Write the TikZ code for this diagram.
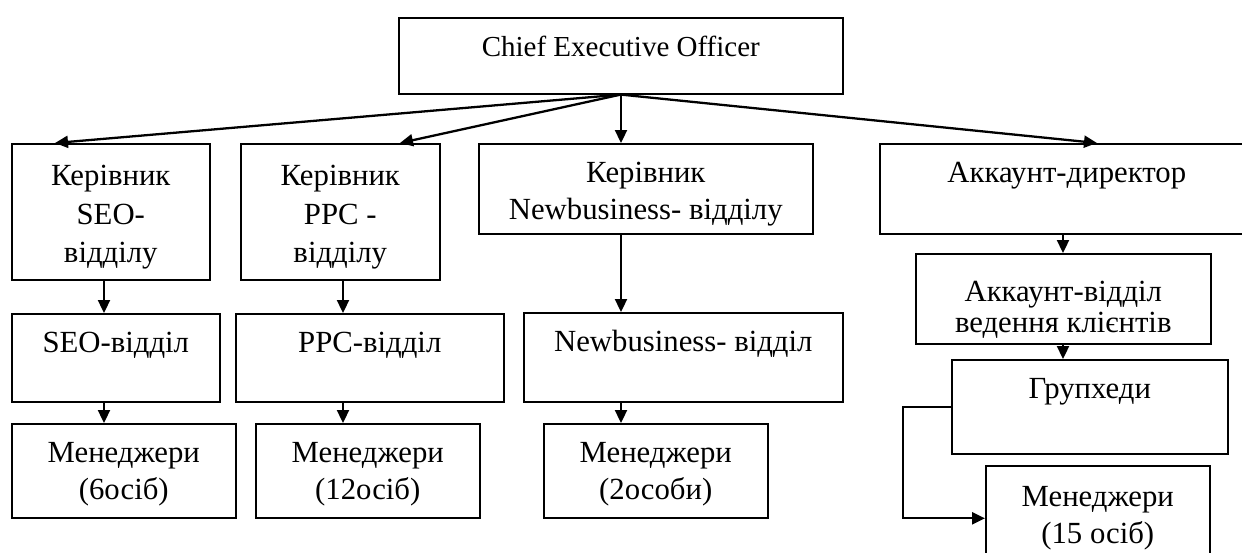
\documentclass[tikz,border=0pt]{standalone}
\usepackage{fontspec}
\setmainfont{Liberation Serif}
\usetikzlibrary{arrows.meta}

% one pixel of the chart
\newlength{\pxunit}
\setlength{\pxunit}{0.02cm}
% content of a box: [first baseline]{width}{height}{text}
\newcommand{\unittext}[4][39]{\parbox[c][#3\pxunit][t]{#2\pxunit}{\centering\rule{0pt}{#1\pxunit}#4}}

\tikzset{
    unit/.style={
           rectangle,
           draw=black, line width=0.9pt,
           inner sep=0pt,
           anchor=north west,
           font=\fontsize{17.5}{21}\selectfont,
           },
}

\begin{document}
\begin{tikzpicture}[x=0.02cm,y=-0.02cm,->,>={Triangle[length=0.26cm,width=0.24cm]},line width=1.3pt]

 \useasboundingbox (0,0) rectangle (1242,552);
 \clip (0,0) rectangle (1242,552);

 % top of the chart
 \node[unit,font=\fontsize{16.5}{21}\selectfont] (CEO) at (398,17)
 {\unittext{444}{76}{Chief Executive Officer}};

 % heads, first row
 \node[unit] (SEOHEAD) at (11,143)
 {\unittext[42]{198}{136}{\setlength{\baselineskip}{21.8pt}Керівник\\SEO-\\відділу}};
 \node[unit] (PPCHEAD) at (240,143)
 {\unittext[42]{199}{136}{\setlength{\baselineskip}{21.8pt}Керівник\\PPC -\\відділу}};
 \node[unit] (NBHEAD) at (478,143) {\unittext{334}{90}{Керівник\\Newbusiness- відділу}};
 \node[unit] (ACCDIR) at (879,143) {\unittext{374}{90}{Аккаунт-директор}};

 % departments
 \node[unit] (SEODEPT) at (11,313) {\unittext{208}{88}{SEO-відділ}};
 \node[unit] (PPCDEPT) at (235,313) {\unittext{268}{88}{PPC-відділ}};
 \node[unit] (NBDEPT) at (523,312) {\unittext{319}{89}{Newbusiness- відділ}};
 \node[unit] (ACCDEPT) at (915,253)
 {\unittext[48]{295}{90}{\setlength{\baselineskip}{17.3pt}Аккаунт-відділ\\ведення клієнтів}};
 \node[unit] (GRPHEAD) at (951,359) {\unittext{276}{94}{Групхеди}};

 % managers
 \node[unit] (SEOMGR) at (11,423) {\unittext{224}{94}{Менеджери\\(6осіб)}};
 \node[unit] (PPCMGR) at (255,423) {\unittext{224}{94}{Менеджери\\(12осіб)}};
 \node[unit] (NBMGR) at (543,423) {\unittext{224}{94}{Менеджери\\(2особи)}};
 \node[unit] (ACCMGR) at (985,465) {\unittext[41]{224}{105}{Менеджери\\(15 осіб)}};

 % where the arrows meet the boxes
 \coordinate (SEOCOL) at (104,0);
 \coordinate (PPCCOL) at (343,0);
 \coordinate (NBCOL) at (621,0);
 \coordinate (ACCCOL) at (1063,0);
 \coordinate (SEOTIP) at (55,0);
 \coordinate (PPCTIP) at (400,0);
 \coordinate (ACCTIP) at (1097,0);

 % draw the arrows
 \path (CEO.south)           edge (SEOHEAD.north -| SEOTIP)
       (CEO.south)           edge (PPCHEAD.north -| PPCTIP)
       (CEO.south -| NBCOL)  edge (NBHEAD.north -| NBCOL)
       (CEO.south)           edge (ACCDIR.north -| ACCTIP)
       (SEOHEAD.south -| SEOCOL) edge (SEODEPT.north -| SEOCOL)
       (SEODEPT.south -| SEOCOL) edge (SEOMGR.north -| SEOCOL)
       (PPCHEAD.south -| PPCCOL) edge (PPCDEPT.north -| PPCCOL)
       (PPCDEPT.south -| PPCCOL) edge (PPCMGR.north -| PPCCOL)
       (NBHEAD.south -| NBCOL)   edge (NBDEPT.north -| NBCOL)
       (NBDEPT.south -| NBCOL)   edge (NBMGR.north -| NBCOL)
       (ACCDIR.south -| ACCCOL)  edge (ACCDEPT.north -| ACCCOL)
       (ACCDEPT.south -| ACCCOL) edge (GRPHEAD.north -| ACCCOL);
 \draw (GRPHEAD.west) -- ++(-48,0) |- (ACCMGR.west);

\end{tikzpicture}
\end{document}
